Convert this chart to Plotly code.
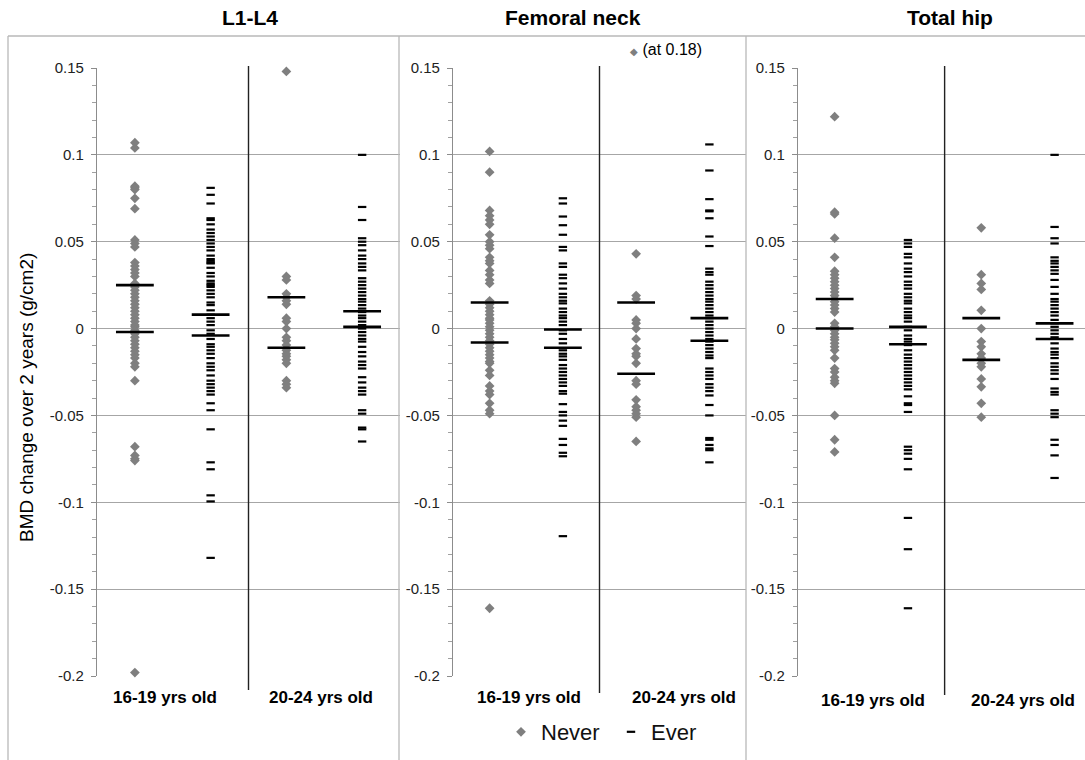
import plotly.graph_objects as go

# ---------------- data ----------------
sites = ["L1-L4", "Femoral neck", "Total hip"]
age_groups = ["16-19 yrs old", "20-24 yrs old"]
series_names = ["Never", "Ever"]

l14_never_1619 = [0.107, 0.104, 0.082, 0.081, 0.080, 0.075, 0.069, 0.051, 0.049, 0.047, 0.038, 0.036,
                  0.034, 0.032, 0.030, 0.026, 0.024, 0.022, 0.020, 0.018, 0.016, 0.014, 0.012, 0.010,
                  0.008, 0.006, 0.004, 0.002, 0.001, -0.001, -0.003, -0.005, -0.007, -0.009, -0.011,
                  -0.013, -0.015, -0.017, -0.020, -0.022, -0.030, -0.068, -0.073, -0.075, -0.076, -0.198]
l14_ever_1619 = [0.081, 0.077, 0.072, 0.0635, 0.0625, 0.060, 0.057, 0.055, 0.053, 0.051, 0.049, 0.047,
                 0.045, 0.042, 0.040, 0.039, 0.038, 0.0375, 0.035, 0.032, 0.030, 0.0275, 0.026, 0.025,
                 0.024, 0.022, 0.020, 0.018, 0.015, 0.0135, 0.0105, 0.008, 0.006, 0.004, 0.002, -0.001,
                 -0.003, -0.006, -0.009, -0.0105, -0.0125, -0.0145, -0.017, -0.020, -0.022, -0.024,
                 -0.027, -0.030, -0.032, -0.034, -0.036, -0.038, -0.043, -0.047, -0.058, -0.077, -0.081,
                 -0.096, -0.0995, -0.132]
l14_never_2024 = [0.148, 0.030, 0.028, 0.020, 0.018, 0.016, 0.014, 0.006, 0.004, 0.000, -0.005, -0.007,
                  -0.0095, -0.0125, -0.0145, -0.016, -0.018, -0.020, -0.030, -0.032, -0.034]
l14_ever_2024 = [0.100, 0.070, 0.0625, 0.052, 0.050, 0.048, 0.045, 0.042, 0.040, 0.0375, 0.0355, 0.0335,
                 0.029, 0.027, 0.025, 0.023, 0.021, 0.019, 0.017, 0.0155, 0.0135, 0.0115, 0.0095, 0.0075,
                 0.006, 0.004, 0.002, 0.000, -0.002, -0.004, -0.006, -0.0075, -0.0105, -0.0135, -0.016,
                 -0.019, -0.021, -0.023, -0.028, -0.031, -0.034, -0.036, -0.038, -0.047, -0.049, -0.057,
                 -0.058, -0.065]

fn_never_1619 = [0.102, 0.090, 0.068, 0.065, 0.0625, 0.060, 0.054, 0.050, 0.048, 0.046, 0.041, 0.039,
                 0.0375, 0.0335, 0.031, 0.028, 0.026, 0.016, 0.014, 0.012, 0.010, 0.008, 0.006, 0.005,
                 0.003, 0.001, -0.001, -0.003, -0.005, -0.007, -0.009, -0.011, -0.013, -0.015, -0.017,
                 -0.019, -0.020, -0.024, -0.027, -0.033, -0.036, -0.038, -0.043, -0.047, -0.049, -0.161]
fn_ever_1619 = [0.075, 0.072, 0.0645, 0.0595, 0.054, 0.047, 0.045, 0.0375, 0.0355, 0.031, 0.029, 0.026,
                0.023, 0.020, 0.018, 0.016, 0.0145, 0.0115, 0.0095, 0.0075, 0.006, 0.004, 0.002, -0.001,
                -0.003, -0.006, -0.0085, -0.0125, -0.0145, -0.016, -0.018, -0.021, -0.023, -0.025,
                -0.027, -0.029, -0.031, -0.033, -0.036, -0.0375, -0.0435, -0.048, -0.050, -0.053,
                -0.056, -0.0635, -0.067, -0.0715, -0.0735, -0.1195]
fn_never_2024 = [0.043, 0.019, 0.017, 0.005, 0.003, 0.000, -0.006, -0.0115, -0.0145, -0.016, -0.020,
                 -0.030, -0.032, -0.041, -0.045, -0.047, -0.049, -0.051, -0.065]
fn_ever_2024 = [0.106, 0.091, 0.0745, 0.068, 0.0675, 0.0635, 0.053, 0.0475, 0.0345, 0.0325, 0.031, 0.027,
                0.025, 0.023, 0.021, 0.019, 0.017, 0.0155, 0.0135, 0.0115, 0.0095, 0.0075, 0.006, 0.004,
                0.002, 0.000, -0.002, -0.004, -0.006, -0.0075, -0.0095, -0.0115, -0.0135, -0.0155,
                -0.017, -0.023, -0.025, -0.027, -0.029, -0.032, -0.034, -0.036, -0.0385, -0.044,
                -0.050, -0.063, -0.064, -0.067, -0.069, -0.070, -0.077]

th_never_1619 = [0.122, 0.067, 0.066, 0.052, 0.041, 0.033, 0.031, 0.029, 0.027, 0.025, 0.023, 0.021,
                 0.019, 0.017, 0.0155, 0.0135, 0.0115, 0.0095, 0.003, 0.001, -0.001, -0.003, -0.005,
                 -0.0065, -0.0085, -0.0105, -0.0125, -0.017, -0.023, -0.025, -0.028, -0.030, -0.0315,
                 -0.050, -0.064, -0.071]
th_ever_1619 = [0.051, 0.049, 0.047, 0.043, 0.041, 0.0375, 0.0345, 0.0325, 0.030, 0.027, 0.025, 0.023,
                0.020, 0.018, 0.016, 0.0145, 0.0115, 0.0095, 0.0075, 0.006, 0.004, 0.001, -0.001,
                -0.004, -0.006, -0.0075, -0.0095, -0.0125, -0.015, -0.017, -0.019, -0.021, -0.023,
                -0.025, -0.027, -0.029, -0.031, -0.033, -0.035, -0.039, -0.043, -0.044, -0.048,
                -0.068, -0.070, -0.072, -0.075, -0.081, -0.109, -0.127, -0.161]
th_never_2024 = [0.058, 0.031, 0.026, 0.0225, 0.0105, 0.000, -0.0075, -0.0105, -0.0145, -0.017, -0.020,
                 -0.022, -0.029, -0.0335, -0.043, -0.051]
th_ever_2024 = [0.100, 0.0585, 0.052, 0.049, 0.041, 0.039, 0.0375, 0.0355, 0.0335, 0.0315, 0.028, 0.024,
                0.020, 0.017, 0.0155, 0.0135, 0.0115, 0.0095, 0.0075, 0.005, 0.003, 0.001, -0.001,
                -0.003, -0.005, -0.0085, -0.0115, -0.0135, -0.015, -0.017, -0.020, -0.022, -0.024,
                -0.026, -0.029, -0.0345, -0.0365, -0.038, -0.047, -0.049, -0.051, -0.064, -0.067,
                -0.073, -0.086]

# summary bars (upper, lower) for columns: Never 16-19, Ever 16-19, Never 20-24, Ever 20-24
l14_bars = [[0.025, -0.002], [0.008, -0.004], [0.018, -0.011], [0.010, 0.001]]
fn_bars = [[0.015, -0.008], [-0.0005, -0.011], [0.015, -0.026], [0.006, -0.007]]
th_bars = [[0.017, 0.000], [0.001, -0.009], [0.006, -0.018], [0.003, -0.006]]

y_tickvals = [0.15, 0.1, 0.05, 0, -0.05, -0.1, -0.15, -0.2]
y_ticktext = ["0.15", "0.1", "0.05", "0", "-0.05", "-0.1", "-0.15", "-0.2"]
outlier_note = "(at 0.18)"
y_title = "BMD change over 2 years (g/cm2)"

# ---------------- layout helpers ----------------
W, H = 1085, 760
def px(p):
    return p / W
def py(p):
    return (H - p) / H

col_x = [0.5, 1.5, 2.5, 3.5]
panel_data = [
    (l14_never_1619, l14_ever_1619, l14_never_2024, l14_ever_2024, l14_bars),
    (fn_never_1619, fn_ever_1619, fn_never_2024, fn_ever_2024, fn_bars),
    (th_never_1619, th_ever_1619, th_never_2024, th_ever_2024, th_bars),
]
x_domains = [[px(97), px(400)], [px(453), px(746)], [px(798), 1.0]]
x_ranges = [[0, 4], [0, 4], [0, 3.915]]
y_domain = [py(676), py(68)]

GRAY = "#7f7f7f"
FONT = "Liberation Sans, Arial, sans-serif"

fig = go.Figure()
for i, (n1, e1, n2, e2, bars) in enumerate(panel_data):
    sfx = "" if i == 0 else str(i + 1)
    xa, ya = "x" + sfx, "y" + sfx
    fig.add_trace(go.Scatter(
        x=[col_x[0]] * len(n1) + [col_x[2]] * len(n2), y=n1 + n2,
        mode="markers", name=series_names[0], legendgroup="never", showlegend=(i == 0),
        marker=dict(symbol="diamond", size=7.5, color=GRAY, line=dict(width=0)),
        xaxis=xa, yaxis=ya, cliponaxis=False))
    fig.add_trace(go.Scatter(
        x=[col_x[1]] * len(e1) + [col_x[3]] * len(e2), y=e1 + e2,
        mode="markers", name=series_names[1], legendgroup="ever", showlegend=(i == 0),
        marker=dict(symbol="line-ew", size=6, color="black", line=dict(width=2.2, color="black")),
        xaxis=xa, yaxis=ya, cliponaxis=False))
    bx, by = [], []
    for cx, (hi, lo) in zip(col_x, bars):
        bx += [cx, cx]
        by += [hi, lo]
    fig.add_trace(go.Scatter(
        x=bx, y=by, mode="markers", showlegend=False, hoverinfo="skip",
        marker=dict(symbol="line-ew", size=27, color="black", line=dict(width=2.6, color="black")),
        xaxis=xa, yaxis=ya))

axis_common_y = dict(
    range=[-0.2, 0.15], domain=y_domain, tickvals=y_tickvals, ticktext=y_ticktext,
    showgrid=True, gridcolor="#a6a6a6", gridwidth=1.3, zeroline=False,
    showline=True, linecolor="#8c8c8c", linewidth=1.3, automargin=False,
    ticks="outside", ticklen=5, tickcolor="#8c8c8c", ticklabelstandoff=4,
    tickfont=dict(family=FONT, size=15, color="#222222"),
    minor=dict(dtick=0.01, tick0=0, ticks="outside", ticklen=4, tickcolor="#a0a0a0", showgrid=False),
)
layout = dict(
    width=W, height=H, autosize=False, margin=dict(l=0, r=0, t=0, b=0, pad=0),
    paper_bgcolor="white", plot_bgcolor="white", font=dict(family=FONT, color="black"),
    legend=dict(orientation="h", x=px(501), y=py(732), xanchor="left", yanchor="middle",
                font=dict(family=FONT, size=22, color="#111111"), bgcolor="rgba(0,0,0,0)",
                itemwidth=30, entrywidth=65),
)
for i in range(3):
    sfx = "" if i == 0 else str(i + 1)
    layout["xaxis" + sfx] = dict(domain=x_domains[i], range=x_ranges[i], anchor="y" + sfx,
                                 showgrid=False, zeroline=False, showline=False, automargin=False,
                                 showticklabels=False, ticks="")
    ya = dict(axis_common_y)
    ya["anchor"] = "x" + sfx
    layout["yaxis" + sfx] = ya
fig.update_layout(**layout)

# panel borders
BORDER = "#b8b8b8"
shapes = [
    dict(type="line", xref="paper", yref="paper", x0=px(8), x1=1.0, y0=py(36), y1=py(36),
         line=dict(color=BORDER, width=1.3)),
]
for xb in [8, 399, 746]:
    shapes.append(dict(type="line", xref="paper", yref="paper", x0=px(xb), x1=px(xb),
                       y0=py(36), y1=0, line=dict(color=BORDER, width=1.3)))
# age group separators
sep_bottom = [690, 693, 695]
for i in range(3):
    sfx = "" if i == 0 else str(i + 1)
    shapes.append(dict(type="line", xref="x" + sfx, yref="paper", x0=2, x1=2,
                       y0=py(sep_bottom[i]), y1=py(66), line=dict(color="#222222", width=1.4)))
fig.update_layout(shapes=shapes)

# titles, category labels, notes
title_x = [250, 573, 950]
ann = []
for i, t in enumerate(sites):
    ann.append(dict(text="<b>%s</b>" % t, x=px(title_x[i]), y=py(18), xref="paper", yref="paper",
                    showarrow=False, xanchor="center", yanchor="middle",
                    font=dict(family=FONT, size=21, color="black")))
cat_centers = [(165, 321), (529, 684), (873, 1023)]
cat_y = [697, 697, 700]
for i in range(3):
    for j, g in enumerate(age_groups):
        ann.append(dict(text="<b>%s</b>" % g, x=px(cat_centers[i][j]), y=py(cat_y[i]),
                        xref="paper", yref="paper", showarrow=False, xanchor="center",
                        yanchor="middle", font=dict(family=FONT, size=17, color="black")))
ann.append(dict(text=y_title, x=px(26), y=py(398), xref="paper", yref="paper", showarrow=False,
                textangle=-90, xanchor="center", yanchor="middle",
                font=dict(family=FONT, size=19, color="black")))
ann.append(dict(text='<span style="color:#7f7f7f;font-size:10px">◆</span> ' + outlier_note,
                x=px(628), y=py(50), xref="paper", yref="paper", showarrow=False,
                xanchor="left", yanchor="middle", font=dict(family=FONT, size=16, color="black")))
fig.update_layout(annotations=ann)

fig.write_html("out.html", config={"displayModeBar": False},
               post_script="document.body.style.margin='0px';")
